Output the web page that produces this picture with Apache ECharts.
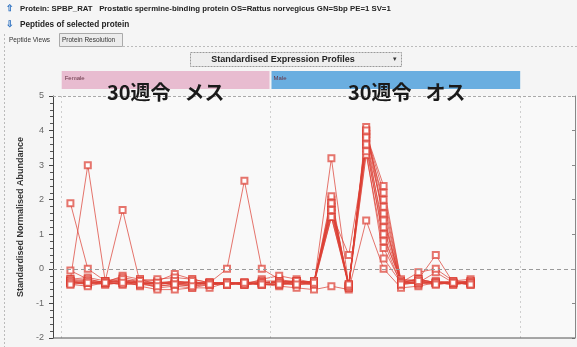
<!DOCTYPE html>
<html>
<head>
<meta charset="utf-8">
<script src="https://cdn.jsdelivr.net/npm/echarts@6/dist/echarts.min.js"></script>
<style>
  html, body { margin: 0; padding: 0; background: #f5f5f5; }
  #chart { width: 577px; height: 347px; }
</style>
</head>
<body>
<div id="chart"></div>
<script>
// Sample positions along the run axis (12 female runs, then 12 male runs)
const samplePos = [1, 2, 3, 4, 5, 6, 7, 8, 9, 10, 11, 12,
                   13, 14, 15, 16, 17, 18, 19, 20, 21, 22, 23, 24];

// Experimental groups and the run ranges they span
const groupNames  = ['Female', 'Male'];
const groupStart  = [0.5, 12.5];
const groupEnd    = [12.5, 26.85];
const groupLabels = ['30週令\u2002\u2009メス', '30週令\u2002\u2009オス'];

// Standardised normalised abundance of each peptide per run
const p01 = [1.9, 0.0, -0.35, -0.3, -0.4, -0.45, -0.4, -0.45, -0.4, -0.42, -0.45, -0.4, -0.35, -0.4, -0.45, 3.2, -0.5, 3.9, 2.4, -0.35, -0.3, -0.4, -0.4, -0.35];
const p02 = [-0.3, 3.0, -0.35, -0.4, -0.4, -0.5, -0.45, -0.5, -0.4, -0.45, -0.4, -0.45, -0.4, -0.45, -0.4, 2.0, -0.5, 4.0, 1.8, -0.4, -0.3, 0.4, -0.4, -0.4];
const p03 = [-0.35, -0.45, -0.35, 1.7, -0.4, -0.55, -0.5, -0.55, -0.45, -0.4, -0.45, -0.4, -0.4, -0.35, -0.4, 1.9, -0.45, 3.8, 2.0, -0.4, -0.35, -0.4, -0.45, -0.4];
const p04 = [-0.4, -0.4, -0.4, -0.35, -0.45, -0.4, -0.4, -0.4, -0.4, 0.0, 2.55, 0.0, -0.3, -0.4, -0.4, 1.8, -0.5, 4.1, 1.5, -0.45, -0.4, -0.1, -0.4, -0.45];
const p05 = [-0.4, -0.45, -0.4, -0.35, -0.5, -0.6, -0.6, -0.55, -0.55, -0.4, -0.4, -0.45, -0.5, -0.55, -0.6, -0.5, -0.6, 1.4, 0.0, -0.55, -0.5, -0.4, -0.45, -0.4];
const p06 = [-0.05, -0.3, -0.4, -0.2, -0.3, -0.35, -0.15, -0.3, -0.4, -0.4, -0.45, -0.3, -0.2, -0.3, -0.4, 1.7, -0.45, 3.6, 1.2, -0.4, -0.1, 0.0, -0.35, -0.3];
const p07 = [-0.3, -0.35, -0.45, -0.4, -0.3, -0.45, -0.35, -0.4, -0.45, -0.4, -0.4, -0.35, -0.35, -0.4, -0.35, 1.6, 0.4, 3.5, 0.9, -0.3, -0.35, -0.4, -0.4, -0.45];
const p08 = [-0.45, -0.5, -0.4, -0.45, -0.45, -0.4, -0.45, -0.45, -0.4, -0.45, -0.4, -0.4, -0.4, -0.45, -0.45, 1.5, -0.5, 3.7, 1.6, -0.45, -0.4, -0.45, -0.4, -0.4];
const p09 = [-0.35, -0.4, -0.35, -0.35, -0.4, -0.4, -0.4, -0.4, -0.45, -0.45, -0.45, -0.45, -0.45, -0.35, -0.4, 2.1, -0.55, 3.9, 2.2, -0.35, -0.45, -0.35, -0.4, -0.35];
const p10 = [-0.3, -0.25, -0.35, -0.25, -0.35, -0.3, -0.25, -0.3, -0.4, -0.4, -0.45, -0.4, -0.35, -0.35, -0.4, 1.8, -0.5, 3.3, 0.6, -0.4, -0.3, -0.4, -0.35, -0.4];
const p11 = [-0.4, -0.4, -0.45, -0.4, -0.4, -0.45, -0.4, -0.45, -0.4, -0.4, -0.4, -0.4, -0.4, -0.4, -0.4, 1.6, -0.45, 3.8, 1.0, -0.4, -0.4, -0.4, -0.45, -0.4];
const p12 = [-0.35, -0.3, -0.4, -0.3, -0.4, -0.4, -0.35, -0.4, -0.4, -0.45, -0.4, -0.45, -0.45, -0.4, -0.35, 1.7, -0.55, 4.0, 1.4, -0.4, -0.3, -0.4, -0.4, -0.45];
const p13 = [-0.4, -0.35, -0.4, -0.45, -0.35, -0.4, -0.45, -0.35, -0.45, -0.4, -0.45, -0.4, -0.4, -0.35, -0.45, 1.9, -0.5, 3.4, 0.3, -0.4, -0.4, -0.4, -0.4, -0.4];
const p14 = [-0.45, -0.4, -0.4, -0.4, -0.45, -0.5, -0.45, -0.5, -0.45, -0.45, -0.4, -0.45, -0.45, -0.45, -0.4, 1.5, -0.45, 3.6, 0.8, -0.45, -0.35, -0.45, -0.4, -0.45];

const peptides = [p01, p02, p03, p04, p05, p06, p07, p08, p09, p10, p11, p12, p13, p14];

const LINE = 'rgba(221, 64, 52, 0.72)';
const UI_FONT = "'Liberation Sans', Arial, sans-serif";
const CJK_FONT = "'Noto Sans CJK JP', sans-serif";

const chart = echarts.init(document.getElementById('chart'), null, { renderer: 'canvas' });

const peptideSeries = peptides.map((vals, k) => ({
  name: 'Peptide ' + (k + 1),
  type: 'line',
  data: vals.map((v, i) => [samplePos[i], v]),
  symbol: 'emptyRect',
  symbolSize: 6,
  lineStyle: { color: LINE, width: 1 },
  itemStyle: { color: LINE, borderColor: LINE, borderWidth: 1 },
  silent: true,
  z: 3
}));

// Reference lines: zero level and group dividers
const guideSeries = {
  type: 'line',
  data: [],
  silent: true,
  markLine: {
    silent: true,
    symbol: 'none',
    label: { show: false },
    data: [
      { yAxis: 0, lineStyle: { color: '#9a9a9a', type: [4, 3], width: 1 } },
      { xAxis: groupStart[0], lineStyle: { color: '#cfcfcf', type: [2, 3], width: 1 } },
      { xAxis: groupStart[1], lineStyle: { color: '#cfcfcf', type: [2, 3], width: 1 } },
      { xAxis: groupEnd[1], lineStyle: { color: '#cfcfcf', type: [2, 3], width: 1 } }
    ]
  }
};

chart.setOption({
  animation: false,
  backgroundColor: '#f5f5f5',
  grid: { left: 53, right: 2, top: 96, bottom: 9, show: true, backgroundColor: '#f9f9f9', borderWidth: 0 },
  xAxis: {
    type: 'value', min: 0, max: 30,
    axisLine: { show: false }, axisTick: { show: false },
    axisLabel: { show: false }, splitLine: { show: false }
  },
  yAxis: [{
    type: 'value', min: -2, max: 5, interval: 1,
    name: 'Standardised Normalised Abundance',
    nameLocation: 'middle', nameGap: 24,
    nameTextStyle: { fontFamily: UI_FONT, fontSize: 9, fontWeight: 'bold', color: '#333' },
    axisLine: { show: true, lineStyle: { color: '#444', width: 1 } },
    axisTick: { show: true, length: 4, lineStyle: { color: '#444' } },
    minorTick: { show: true, splitNumber: 5, length: 3, lineStyle: { color: '#555' } },
    axisLabel: { fontFamily: UI_FONT, fontSize: 9, color: '#666', margin: 9 },
    splitLine: { show: false }
  }, {
    type: 'value', min: -2, max: 5, interval: 1, position: 'right',
    axisLine: { show: true, lineStyle: { color: '#888', width: 1 } },
    axisTick: { show: true, inside: true, length: 3, lineStyle: { color: '#888' } },
    minorTick: { show: false },
    axisLabel: { show: false },
    splitLine: { show: false }
  }],
  series: [guideSeries].concat(peptideSeries)
});

// Header, tabs, selector and group bands (bands placed from the run axis)
const bandTop = 71, bandH = 18;
const graphics = [
  // bottom axis line and dashed top frame of the plot
  { type: 'line', shape: { x1: 53, y1: 338, x2: 575, y2: 338 }, style: { stroke: '#555', lineWidth: 1 }, z: 10 },
  { type: 'line', shape: { x1: 53, y1: 96.5, x2: 575, y2: 96.5 }, style: { stroke: '#aaa', lineWidth: 1, lineDash: [3, 2] }, z: 10 },
  // panel frame
  { type: 'line', shape: { x1: 4.5, y1: 34, x2: 4.5, y2: 347 }, style: { stroke: '#bbb', lineWidth: 1, lineDash: [2, 2] } },
  { type: 'line', shape: { x1: 123, y1: 46.5, x2: 577, y2: 46.5 }, style: { stroke: '#bbb', lineWidth: 1, lineDash: [2, 2] } },
  // header lines
  { type: 'text', x: 6, y: 4, style: { text: '⇧', fill: '#2a6fc0', font: 'bold 9px ' + UI_FONT } },
  { type: 'text', x: 20, y: 5, style: { text: 'Protein: SPBP_RAT   Prostatic spermine-binding protein OS=Rattus norvegicus GN=Sbp PE=1 SV=1', fill: '#222', font: 'bold 7.8px ' + UI_FONT } },
  { type: 'text', x: 6, y: 20, style: { text: '⇩', fill: '#2a6fc0', font: 'bold 9px ' + UI_FONT } },
  { type: 'text', x: 20, y: 20.5, style: { text: 'Peptides of selected protein', fill: '#222', font: 'bold 8.2px ' + UI_FONT } },
  // tabs
  { type: 'text', x: 9, y: 37, style: { text: 'Peptide Views', fill: '#333', font: '6.5px ' + UI_FONT } },
  { type: 'rect', shape: { x: 59.5, y: 33.5, width: 63, height: 13 }, style: { fill: '#ececec', stroke: '#aaa', lineWidth: 1 } },
  { type: 'text', x: 62, y: 37, style: { text: 'Protein Resolution', fill: '#333', font: '6.5px ' + UI_FONT } },
  // profile selector
  { type: 'rect', shape: { x: 190.5, y: 52.5, width: 211, height: 14 }, style: { fill: '#eeeeee', stroke: '#999', lineWidth: 1, lineDash: [2, 1] } },
  { type: 'text', x: 283, y: 59.5, style: { text: 'Standardised Expression Profiles', fill: '#222', font: 'bold 9px ' + UI_FONT, align: 'center', verticalAlign: 'middle' } },
  { type: 'text', x: 395, y: 59.5, style: { text: '▾', fill: '#333', font: '7px ' + UI_FONT, align: 'center', verticalAlign: 'middle' } }
];

const bandColors = ['#e8bcd0', '#6aaee0'];
const labelX = [107, 348];
groupNames.forEach((g, k) => {
  const x0 = chart.convertToPixel({ xAxisIndex: 0 }, groupStart[k]);
  const x1 = chart.convertToPixel({ xAxisIndex: 0 }, groupEnd[k]);
  graphics.push({ type: 'rect', shape: { x: x0 + (k ? 1 : 0), y: bandTop, width: x1 - x0 - 1, height: bandH }, style: { fill: bandColors[k] } });
  graphics.push({ type: 'text', x: x0 + 3, y: bandTop + 4, style: { text: g, fill: '#663344', font: '6px ' + UI_FONT } });
  graphics.push({ type: 'text', x: labelX[k], y: 92, z: 20, style: { text: groupLabels[k], fill: '#1a1a1a', font: 'bold 20px ' + CJK_FONT, verticalAlign: 'middle' } });
});

chart.setOption({ graphic: graphics });
</script>
</body>
</html>
